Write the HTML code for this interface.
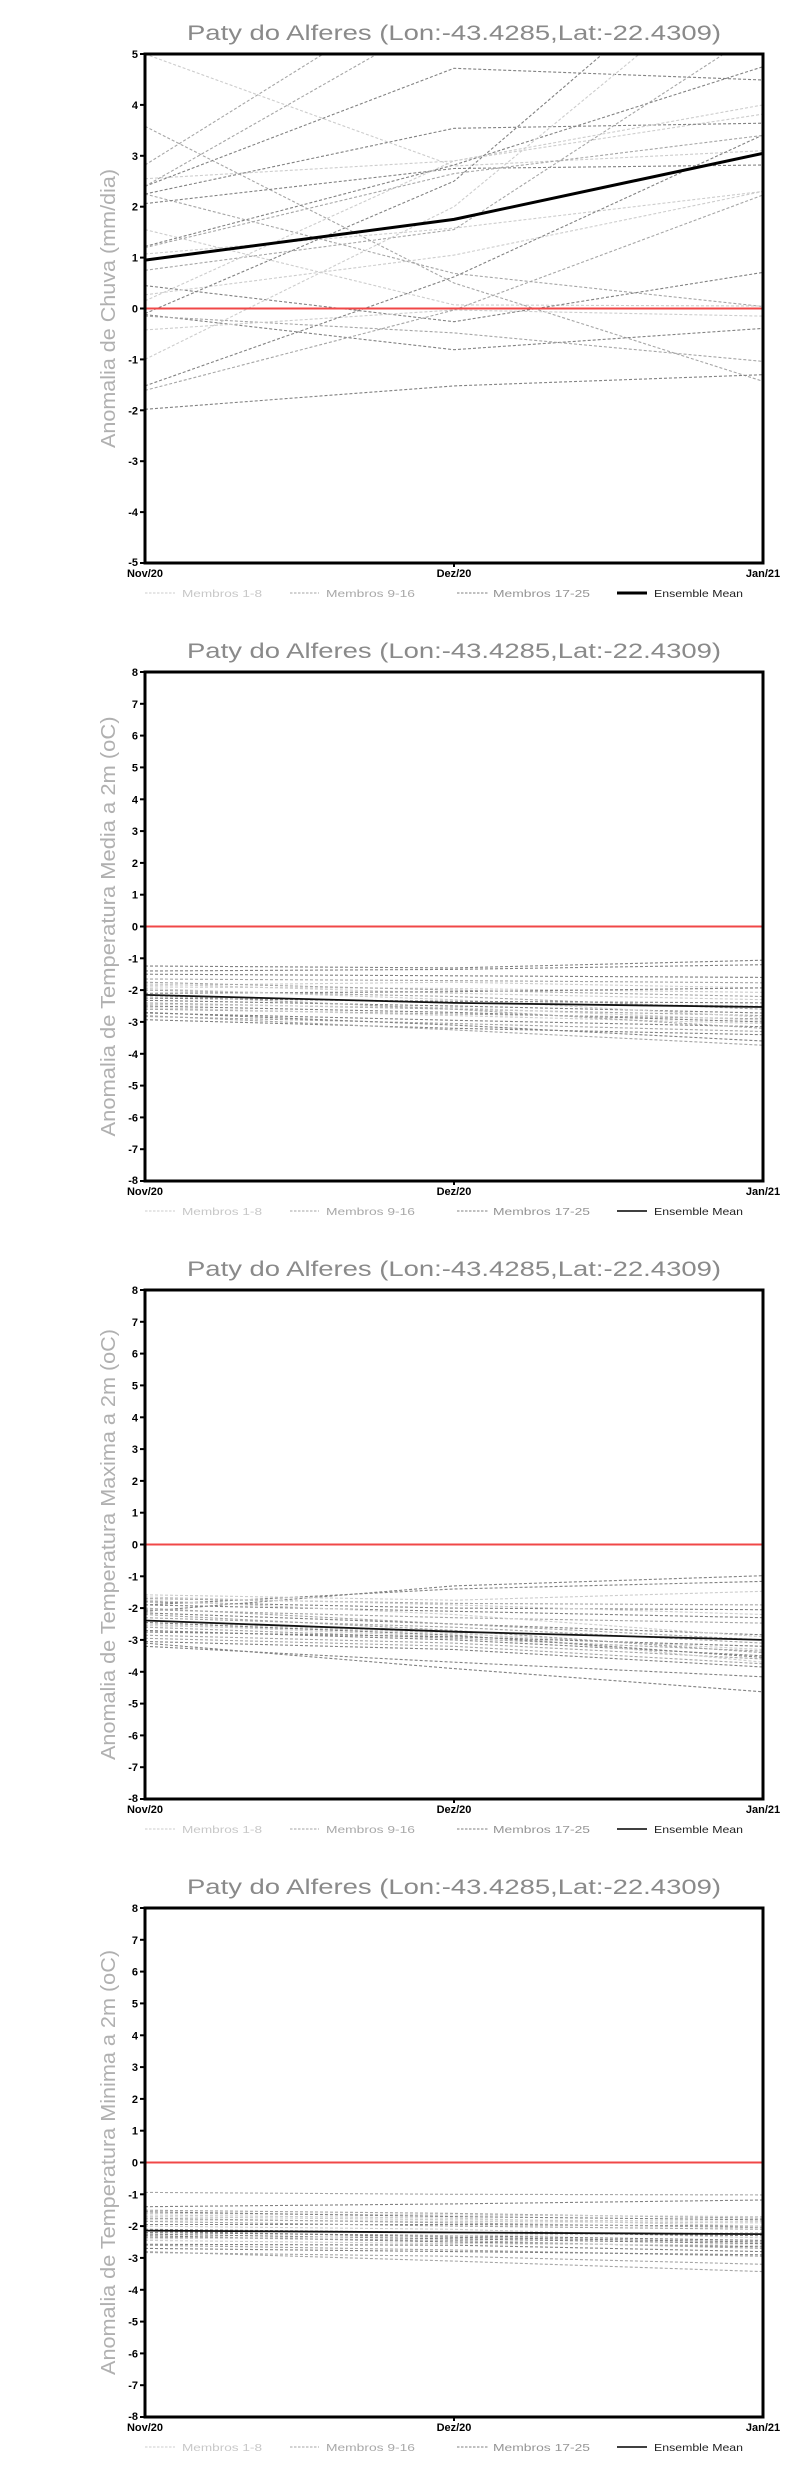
<!DOCTYPE html>
<html>
<head>
<meta charset="utf-8">
<style>
  html,body{margin:0;padding:0;background:#fff;}
  svg{display:block;}
  .m{fill:none;stroke-width:1.1;stroke-dasharray:3 2;}
  .L{stroke:#cdcdcd;}
  .M{stroke:#a6a6a6;}
  .D{stroke:#828282;}
  .tk{font-family:"Liberation Sans",sans-serif;font-weight:bold;font-size:11px;fill:#000;}
  .ttl{font-family:"Liberation Sans",sans-serif;font-size:21px;fill:#8a8a8a;}
  .yl{font-family:"Liberation Sans",sans-serif;font-size:20px;fill:#b0b0b0;}
  .lg{font-family:"Liberation Sans",sans-serif;font-size:10.5px;}
</style>
</head>
<body>
<svg width="800" height="2472" viewBox="0 0 800 2472" xmlns="http://www.w3.org/2000/svg">
<rect x="0" y="0" width="800" height="2472" fill="#fff"/>
<defs>
  <clipPath id="pc"><rect x="145" y="54" width="618" height="509"/></clipPath>
</defs>

<!-- ================= CHART 1 ================= -->
<g>
  <text class="ttl" x="454" y="40" text-anchor="middle" textLength="534" lengthAdjust="spacingAndGlyphs">Paty do Alferes (Lon:-43.4285,Lat:-22.4309)</text>
  <text class="yl" transform="translate(115,308.5) rotate(-90)" text-anchor="middle" textLength="279" lengthAdjust="spacingAndGlyphs">Anomalia de Chuva (mm/dia)</text>
  <g clip-path="url(#pc)">
    <polyline class="m L" points="145,54 454,166.0 763,150.7"/>
    <polyline class="m M" points="145,126.3 454,283.0 763,381.3"/>
    <polyline class="m M" points="145,165.0 454,-27.4 763,-149.6"/>
    <polyline class="m L" points="145,178.7 454,160.9 763,114.1"/>
    <polyline class="m D" points="145,186.3 454,68.3 763,80.0"/>
    <polyline class="m M" points="145,186.3 454,10.2 763,-98.7"/>
    <polyline class="m D" points="145,194.0 454,128.3 763,123.2"/>
    <polyline class="m M" points="145,194.0 454,273.4 763,306.5"/>
    <polyline class="m D" points="145,203.6 454,168.5 763,165.0"/>
    <polyline class="m L" points="145,229.6 454,304.9 763,306.0"/>
    <polyline class="m D" points="145,246.4 454,165.0 763,66.7"/>
    <polyline class="m L" points="145,254.0 454,228.1 763,191.4"/>
    <polyline class="m M" points="145,270.3 454,229.6 763,28.5"/>
    <polyline class="m D" points="145,285.6 454,321.7 763,272.4"/>
    <polyline class="m L" points="145,294.8 454,255.1 763,191.4"/>
    <polyline class="m L" points="145,300.9 454,160.9 763,104.9"/>
    <polyline class="m D" points="145,313.6 454,181.2 763,-83.4"/>
    <polyline class="m D" points="145,314.6 454,349.7 763,328.4"/>
    <polyline class="m M" points="145,316.1 454,332.9 763,361.4"/>
    <polyline class="m L" points="145,329.9 454,310.0 763,316.1"/>
    <polyline class="m L" points="145,359.4 454,206.7 763,-47.8"/>
    <polyline class="m D" points="145,385.9 454,276.9 763,134.9"/>
    <polyline class="m M" points="145,390.4 454,310.0 763,195.0"/>
    <polyline class="m D" points="145,409.3 454,385.9 763,374.7"/>
    <polyline class="m M" points="145,247.6 454,173.6 763,135.4"/>
    <line x1="145" y1="308.5" x2="763" y2="308.5" stroke="#f04848" stroke-width="2"/>
    <polyline points="145,260.1 454,219.4 763,153.3" fill="none" stroke="#000" stroke-width="3" stroke-linejoin="round"/>
  </g>
  <rect x="145" y="54" width="618" height="509" fill="none" stroke="#000" stroke-width="3"/>
  <g stroke="#000" stroke-width="2">
    <line x1="140" y1="54" x2="145" y2="54"/><line x1="140" y1="104.9" x2="145" y2="104.9"/>
    <line x1="140" y1="155.8" x2="145" y2="155.8"/><line x1="140" y1="206.7" x2="145" y2="206.7"/>
    <line x1="140" y1="257.6" x2="145" y2="257.6"/><line x1="140" y1="308.5" x2="145" y2="308.5"/>
    <line x1="140" y1="359.4" x2="145" y2="359.4"/><line x1="140" y1="410.3" x2="145" y2="410.3"/>
    <line x1="140" y1="461.2" x2="145" y2="461.2"/><line x1="140" y1="512.1" x2="145" y2="512.1"/>
    <line x1="140" y1="563" x2="145" y2="563"/>
    <line x1="454" y1="563" x2="454" y2="567"/>
  </g>
  <g class="tk" text-anchor="end">
    <text x="138" y="58">5</text><text x="138" y="108.9">4</text><text x="138" y="159.8">3</text>
    <text x="138" y="210.7">2</text><text x="138" y="261.6">1</text><text x="138" y="312.5">0</text>
    <text x="138" y="363.4">-1</text><text x="138" y="414.3">-2</text><text x="138" y="465.2">-3</text>
    <text x="138" y="516.1">-4</text><text x="138" y="566">-5</text>
  </g>
  <g class="tk" text-anchor="middle">
    <text x="145" y="577">Nov/20</text><text x="454" y="577">Dez/20</text><text x="763" y="577">Jan/21</text>
  </g>
  <line x1="145" y1="593" x2="175" y2="593" stroke="#cdcdcd" stroke-width="1" stroke-dasharray="2.5 1.5"/>
  <text class="lg" x="182" y="597" fill="#c8c8c8" textLength="80" lengthAdjust="spacingAndGlyphs">Membros 1-8</text>
  <line x1="290" y1="593" x2="319" y2="593" stroke="#a6a6a6" stroke-width="1" stroke-dasharray="2.5 1.5"/>
  <text class="lg" x="326" y="597" fill="#a8a8a8" textLength="89" lengthAdjust="spacingAndGlyphs">Membros 9-16</text>
  <line x1="457" y1="593" x2="488" y2="593" stroke="#828282" stroke-width="1" stroke-dasharray="2.5 1.5"/>
  <text class="lg" x="493" y="597" fill="#959595" textLength="97" lengthAdjust="spacingAndGlyphs">Membros 17-25</text>
  <line x1="617" y1="593" x2="647" y2="593" stroke="#000" stroke-width="3"/>
  <text class="lg" x="654" y="597" fill="#222" textLength="89" lengthAdjust="spacingAndGlyphs">Ensemble Mean</text>
</g>

<!-- ================= CHART 2 ================= -->
<g transform="translate(0,618)">
  <text class="ttl" x="454" y="40" text-anchor="middle" textLength="534" lengthAdjust="spacingAndGlyphs">Paty do Alferes (Lon:-43.4285,Lat:-22.4309)</text>
  <text class="yl" transform="translate(115,308.5) rotate(-90)" text-anchor="middle" textLength="420" lengthAdjust="spacingAndGlyphs">Anomalia de Temperatura Media a 2m (oC)</text>
  <polyline class="m D" points="145,348.0 454,349.9 763,342.2"/>
  <polyline class="m D" points="145,353.0 454,351.4 763,346.7"/>
  <polyline class="m D" points="145,356.2 454,357.8 763,359.4"/>
  <polyline class="m M" points="145,361.0 454,362.6 763,364.8"/>
  <polyline class="m L" points="145,367.4 454,364.2 763,369.9"/>
  <polyline class="m L" points="145,368.9 454,370.5 763,374.4"/>
  <polyline class="m L" points="145,365.8 454,375.3 763,381.7"/>
  <polyline class="m D" points="145,375.3 454,373.7 763,369.9"/>
  <polyline class="m M" points="145,372.1 454,378.5 763,391.2"/>
  <polyline class="m D" points="145,382.3 454,388.0 763,395.0"/>
  <polyline class="m M" points="145,384.9 454,391.2 763,397.6"/>
  <polyline class="m D" points="145,388.0 454,394.4 763,403.9"/>
  <polyline class="m M" points="145,391.2 454,396.0 763,400.8"/>
  <polyline class="m D" points="145,395.0 454,402.3 763,408.7"/>
  <polyline class="m M" points="145,398.5 454,405.5 763,413.5"/>
  <polyline class="m D" points="145,401.7 454,410.3 763,416.7"/>
  <polyline class="m D" points="145,394.4 454,407.1 763,423.0"/>
  <polyline class="m M" points="145,397.6 454,411.9 763,427.2"/>
  <polyline class="m L" points="145,370.5 454,381.7 763,399.2"/>
  <polyline class="m L" points="145,378.5 454,384.9 763,388.0"/>
  <polyline class="m L" points="145,386.4 454,389.6 763,402.3"/>
  <polyline class="m M" points="145,364.2 454,372.1 763,378.5"/>
  <polyline class="m D" points="145,380.1 454,383.3 763,384.9"/>
  <polyline class="m L" points="145,389.6 454,397.6 763,405.5"/>
  <polyline class="m M" points="145,376.9 454,391.2 763,410.3"/>
  <line x1="145" y1="308.5" x2="763" y2="308.5" stroke="#f04848" stroke-width="2"/>
  <polyline points="145,376.9 454,384.9 763,389.0" fill="none" stroke="#111" stroke-width="1.8"/>
  <rect x="145" y="54" width="618" height="509" fill="none" stroke="#000" stroke-width="3"/>
  <g stroke="#000" stroke-width="2">
    <line x1="140" y1="54" x2="145" y2="54"/><line x1="140" y1="85.8" x2="145" y2="85.8"/>
    <line x1="140" y1="117.6" x2="145" y2="117.6"/><line x1="140" y1="149.4" x2="145" y2="149.4"/>
    <line x1="140" y1="181.3" x2="145" y2="181.3"/><line x1="140" y1="213.1" x2="145" y2="213.1"/>
    <line x1="140" y1="244.9" x2="145" y2="244.9"/><line x1="140" y1="276.7" x2="145" y2="276.7"/>
    <line x1="140" y1="308.5" x2="145" y2="308.5"/><line x1="140" y1="340.3" x2="145" y2="340.3"/>
    <line x1="140" y1="372.1" x2="145" y2="372.1"/><line x1="140" y1="403.9" x2="145" y2="403.9"/>
    <line x1="140" y1="435.8" x2="145" y2="435.8"/><line x1="140" y1="467.6" x2="145" y2="467.6"/>
    <line x1="140" y1="499.4" x2="145" y2="499.4"/><line x1="140" y1="531.2" x2="145" y2="531.2"/>
    <line x1="140" y1="563" x2="145" y2="563"/>
    <line x1="454" y1="563" x2="454" y2="567"/>
  </g>
  <g class="tk" text-anchor="end">
    <text x="138" y="58">8</text><text x="138" y="89.8">7</text><text x="138" y="121.6">6</text>
    <text x="138" y="153.4">5</text><text x="138" y="185.3">4</text><text x="138" y="217.1">3</text>
    <text x="138" y="248.9">2</text><text x="138" y="280.7">1</text><text x="138" y="312.5">0</text>
    <text x="138" y="344.3">-1</text><text x="138" y="376.1">-2</text><text x="138" y="407.9">-3</text>
    <text x="138" y="439.8">-4</text><text x="138" y="471.6">-5</text><text x="138" y="503.4">-6</text>
    <text x="138" y="535.2">-7</text><text x="138" y="566">-8</text>
  </g>
  <g class="tk" text-anchor="middle">
    <text x="145" y="577">Nov/20</text><text x="454" y="577">Dez/20</text><text x="763" y="577">Jan/21</text>
  </g>
  <line x1="145" y1="593" x2="175" y2="593" stroke="#cdcdcd" stroke-width="1" stroke-dasharray="2.5 1.5"/>
  <text class="lg" x="182" y="597" fill="#c8c8c8" textLength="80" lengthAdjust="spacingAndGlyphs">Membros 1-8</text>
  <line x1="290" y1="593" x2="319" y2="593" stroke="#a6a6a6" stroke-width="1" stroke-dasharray="2.5 1.5"/>
  <text class="lg" x="326" y="597" fill="#a8a8a8" textLength="89" lengthAdjust="spacingAndGlyphs">Membros 9-16</text>
  <line x1="457" y1="593" x2="488" y2="593" stroke="#828282" stroke-width="1" stroke-dasharray="2.5 1.5"/>
  <text class="lg" x="493" y="597" fill="#959595" textLength="97" lengthAdjust="spacingAndGlyphs">Membros 17-25</text>
  <line x1="617" y1="593" x2="647" y2="593" stroke="#000" stroke-width="1.5"/>
  <text class="lg" x="654" y="597" fill="#222" textLength="89" lengthAdjust="spacingAndGlyphs">Ensemble Mean</text>
</g>

<!-- ================= CHART 3 ================= -->
<g transform="translate(0,1236)">
  <text class="ttl" x="454" y="40" text-anchor="middle" textLength="534" lengthAdjust="spacingAndGlyphs">Paty do Alferes (Lon:-43.4285,Lat:-22.4309)</text>
  <text class="yl" transform="translate(115,308.5) rotate(-90)" text-anchor="middle" textLength="431" lengthAdjust="spacingAndGlyphs">Anomalia de Temperatura Maxima a 2m (oC)</text>
  <polyline class="m D" points="145,375.3 454,349.9 763,339.7"/>
  <polyline class="m D" points="145,368.9 454,353.0 763,345.4"/>
  <polyline class="m L" points="145,358.8 454,364.2 763,355.3"/>
  <polyline class="m M" points="145,362.6 454,367.4 763,368.9"/>
  <polyline class="m D" points="145,365.8 454,372.1 763,373.7"/>
  <polyline class="m D" points="145,368.9 454,375.3 763,381.7"/>
  <polyline class="m M" points="145,373.7 454,381.7 763,387.1"/>
  <polyline class="m D" points="145,376.9 454,388.0 763,398.8"/>
  <polyline class="m M" points="145,381.7 454,391.2 763,407.1"/>
  <polyline class="m L" points="145,388.0 454,400.8 763,410.3"/>
  <polyline class="m M" points="145,391.2 454,402.3 763,415.1"/>
  <polyline class="m D" points="145,394.4 454,403.9 763,419.8"/>
  <polyline class="m M" points="145,399.2 454,407.1 763,423.0"/>
  <polyline class="m D" points="145,405.5 454,413.5 763,431.0"/>
  <polyline class="m D" points="145,410.3 454,426.2 763,440.8"/>
  <polyline class="m D" points="145,407.1 454,432.6 763,455.8"/>
  <polyline class="m L" points="145,384.9 454,397.6 763,413.5"/>
  <polyline class="m L" points="145,389.6 454,396.0 763,426.2"/>
  <polyline class="m L" points="145,364.2 454,378.5 763,400.8"/>
  <polyline class="m M" points="145,372.1 454,388.0 763,403.9"/>
  <polyline class="m D" points="145,396.0 454,400.8 763,410.3"/>
  <polyline class="m M" points="145,378.5 454,394.4 763,416.7"/>
  <polyline class="m M" points="145,402.3 454,410.3 763,427.8"/>
  <polyline class="m L" points="145,361.0 454,368.9 763,378.5"/>
  <polyline class="m D" points="145,386.4 454,399.2 763,421.4"/>
  <line x1="145" y1="308.5" x2="763" y2="308.5" stroke="#f04848" stroke-width="2"/>
  <polyline points="145,384.5 454,395.7 763,403.9" fill="none" stroke="#111" stroke-width="1.8"/>
  <rect x="145" y="54" width="618" height="509" fill="none" stroke="#000" stroke-width="3"/>
  <g stroke="#000" stroke-width="2">
    <line x1="140" y1="54" x2="145" y2="54"/><line x1="140" y1="85.8" x2="145" y2="85.8"/>
    <line x1="140" y1="117.6" x2="145" y2="117.6"/><line x1="140" y1="149.4" x2="145" y2="149.4"/>
    <line x1="140" y1="181.3" x2="145" y2="181.3"/><line x1="140" y1="213.1" x2="145" y2="213.1"/>
    <line x1="140" y1="244.9" x2="145" y2="244.9"/><line x1="140" y1="276.7" x2="145" y2="276.7"/>
    <line x1="140" y1="308.5" x2="145" y2="308.5"/><line x1="140" y1="340.3" x2="145" y2="340.3"/>
    <line x1="140" y1="372.1" x2="145" y2="372.1"/><line x1="140" y1="403.9" x2="145" y2="403.9"/>
    <line x1="140" y1="435.8" x2="145" y2="435.8"/><line x1="140" y1="467.6" x2="145" y2="467.6"/>
    <line x1="140" y1="499.4" x2="145" y2="499.4"/><line x1="140" y1="531.2" x2="145" y2="531.2"/>
    <line x1="140" y1="563" x2="145" y2="563"/>
    <line x1="454" y1="563" x2="454" y2="567"/>
  </g>
  <g class="tk" text-anchor="end">
    <text x="138" y="58">8</text><text x="138" y="89.8">7</text><text x="138" y="121.6">6</text>
    <text x="138" y="153.4">5</text><text x="138" y="185.3">4</text><text x="138" y="217.1">3</text>
    <text x="138" y="248.9">2</text><text x="138" y="280.7">1</text><text x="138" y="312.5">0</text>
    <text x="138" y="344.3">-1</text><text x="138" y="376.1">-2</text><text x="138" y="407.9">-3</text>
    <text x="138" y="439.8">-4</text><text x="138" y="471.6">-5</text><text x="138" y="503.4">-6</text>
    <text x="138" y="535.2">-7</text><text x="138" y="566">-8</text>
  </g>
  <g class="tk" text-anchor="middle">
    <text x="145" y="577">Nov/20</text><text x="454" y="577">Dez/20</text><text x="763" y="577">Jan/21</text>
  </g>
  <line x1="145" y1="593" x2="175" y2="593" stroke="#cdcdcd" stroke-width="1" stroke-dasharray="2.5 1.5"/>
  <text class="lg" x="182" y="597" fill="#c8c8c8" textLength="80" lengthAdjust="spacingAndGlyphs">Membros 1-8</text>
  <line x1="290" y1="593" x2="319" y2="593" stroke="#a6a6a6" stroke-width="1" stroke-dasharray="2.5 1.5"/>
  <text class="lg" x="326" y="597" fill="#a8a8a8" textLength="89" lengthAdjust="spacingAndGlyphs">Membros 9-16</text>
  <line x1="457" y1="593" x2="488" y2="593" stroke="#828282" stroke-width="1" stroke-dasharray="2.5 1.5"/>
  <text class="lg" x="493" y="597" fill="#959595" textLength="97" lengthAdjust="spacingAndGlyphs">Membros 17-25</text>
  <line x1="617" y1="593" x2="647" y2="593" stroke="#000" stroke-width="1.5"/>
  <text class="lg" x="654" y="597" fill="#222" textLength="89" lengthAdjust="spacingAndGlyphs">Ensemble Mean</text>
</g>

<!-- ================= CHART 4 ================= -->
<g transform="translate(0,1854)">
  <text class="ttl" x="454" y="40" text-anchor="middle" textLength="534" lengthAdjust="spacingAndGlyphs">Paty do Alferes (Lon:-43.4285,Lat:-22.4309)</text>
  <text class="yl" transform="translate(115,308.5) rotate(-90)" text-anchor="middle" textLength="425" lengthAdjust="spacingAndGlyphs">Anomalia de Temperatura Minima a 2m (oC)</text>
  <polyline class="m M" points="145,338.4 454,340.3 763,340.9"/>
  <polyline class="m D" points="145,352.7 454,349.9 763,346.0"/>
  <polyline class="m M" points="145,356.2 454,359.4 763,364.2"/>
  <polyline class="m L" points="145,359.4 454,361.0 763,362.6"/>
  <polyline class="m L" points="145,362.6 454,365.8 763,367.4"/>
  <polyline class="m L" points="145,365.8 454,367.4 763,368.9"/>
  <polyline class="m D" points="145,370.5 454,370.5 763,372.1"/>
  <polyline class="m D" points="145,378.5 454,381.7 763,386.4"/>
  <polyline class="m D" points="145,380.1 454,384.9 763,389.6"/>
  <polyline class="m D" points="145,381.7 454,388.0 763,392.8"/>
  <polyline class="m D" points="145,390.3 454,391.2 763,397.6"/>
  <polyline class="m M" points="145,398.5 454,402.3 763,410.3"/>
  <polyline class="m M" points="145,397.6 454,407.1 763,417.6"/>
  <polyline class="m M" points="145,391.2 454,396.0 763,402.3"/>
  <polyline class="m L" points="145,372.1 454,375.3 763,383.9"/>
  <polyline class="m L" points="145,361.0 454,364.2 763,372.1"/>
  <polyline class="m D" points="145,375.3 454,378.5 763,381.7"/>
  <polyline class="m M" points="145,383.3 454,386.4 763,394.4"/>
  <polyline class="m M" points="145,367.4 454,372.1 763,375.3"/>
  <polyline class="m L" points="145,386.4 454,389.6 763,391.2"/>
  <polyline class="m D" points="145,376.9 454,383.3 763,388.0"/>
  <polyline class="m D" points="145,357.8 454,362.6 763,365.8"/>
  <polyline class="m D" points="145,394.4 454,397.6 763,400.8"/>
  <polyline class="m L" points="145,384.9 454,381.7 763,378.5"/>
  <polyline class="m M" points="145,364.2 454,368.9 763,373.7"/>
  <line x1="145" y1="308.5" x2="763" y2="308.5" stroke="#f04848" stroke-width="2"/>
  <polyline points="145,376.6 454,378.5 763,380.1" fill="none" stroke="#111" stroke-width="1.8"/>
  <rect x="145" y="54" width="618" height="509" fill="none" stroke="#000" stroke-width="3"/>
  <g stroke="#000" stroke-width="2">
    <line x1="140" y1="54" x2="145" y2="54"/><line x1="140" y1="85.8" x2="145" y2="85.8"/>
    <line x1="140" y1="117.6" x2="145" y2="117.6"/><line x1="140" y1="149.4" x2="145" y2="149.4"/>
    <line x1="140" y1="181.3" x2="145" y2="181.3"/><line x1="140" y1="213.1" x2="145" y2="213.1"/>
    <line x1="140" y1="244.9" x2="145" y2="244.9"/><line x1="140" y1="276.7" x2="145" y2="276.7"/>
    <line x1="140" y1="308.5" x2="145" y2="308.5"/><line x1="140" y1="340.3" x2="145" y2="340.3"/>
    <line x1="140" y1="372.1" x2="145" y2="372.1"/><line x1="140" y1="403.9" x2="145" y2="403.9"/>
    <line x1="140" y1="435.8" x2="145" y2="435.8"/><line x1="140" y1="467.6" x2="145" y2="467.6"/>
    <line x1="140" y1="499.4" x2="145" y2="499.4"/><line x1="140" y1="531.2" x2="145" y2="531.2"/>
    <line x1="140" y1="563" x2="145" y2="563"/>
    <line x1="454" y1="563" x2="454" y2="567"/>
  </g>
  <g class="tk" text-anchor="end">
    <text x="138" y="58">8</text><text x="138" y="89.8">7</text><text x="138" y="121.6">6</text>
    <text x="138" y="153.4">5</text><text x="138" y="185.3">4</text><text x="138" y="217.1">3</text>
    <text x="138" y="248.9">2</text><text x="138" y="280.7">1</text><text x="138" y="312.5">0</text>
    <text x="138" y="344.3">-1</text><text x="138" y="376.1">-2</text><text x="138" y="407.9">-3</text>
    <text x="138" y="439.8">-4</text><text x="138" y="471.6">-5</text><text x="138" y="503.4">-6</text>
    <text x="138" y="535.2">-7</text><text x="138" y="566">-8</text>
  </g>
  <g class="tk" text-anchor="middle">
    <text x="145" y="577">Nov/20</text><text x="454" y="577">Dez/20</text><text x="763" y="577">Jan/21</text>
  </g>
  <line x1="145" y1="593" x2="175" y2="593" stroke="#cdcdcd" stroke-width="1" stroke-dasharray="2.5 1.5"/>
  <text class="lg" x="182" y="597" fill="#c8c8c8" textLength="80" lengthAdjust="spacingAndGlyphs">Membros 1-8</text>
  <line x1="290" y1="593" x2="319" y2="593" stroke="#a6a6a6" stroke-width="1" stroke-dasharray="2.5 1.5"/>
  <text class="lg" x="326" y="597" fill="#a8a8a8" textLength="89" lengthAdjust="spacingAndGlyphs">Membros 9-16</text>
  <line x1="457" y1="593" x2="488" y2="593" stroke="#828282" stroke-width="1" stroke-dasharray="2.5 1.5"/>
  <text class="lg" x="493" y="597" fill="#959595" textLength="97" lengthAdjust="spacingAndGlyphs">Membros 17-25</text>
  <line x1="617" y1="593" x2="647" y2="593" stroke="#000" stroke-width="1.5"/>
  <text class="lg" x="654" y="597" fill="#222" textLength="89" lengthAdjust="spacingAndGlyphs">Ensemble Mean</text>
</g>
</svg>
</body>
</html>
